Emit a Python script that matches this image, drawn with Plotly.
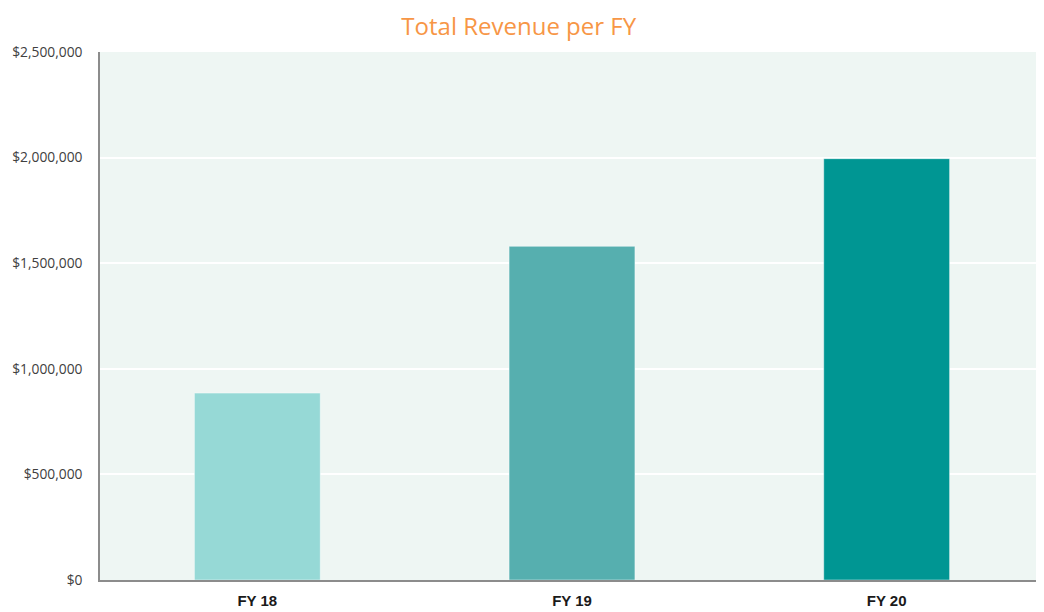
import plotly.graph_objects as go

categories = ["FY 18", "FY 19", "FY 20"]
revenue = [885000, 1580000, 1995000]
bar_colors = ["#96D9D6", "#56AFAF", "#009693"]
tick_vals = [0, 500000, 1000000, 1500000, 2000000, 2500000]
tick_text = ["$0", "$500,000", "$1,000,000", "$1,500,000", "$2,000,000", "$2,500,000"]

fig = go.Figure(go.Bar(
    x=categories, y=revenue,
    marker=dict(color=bar_colors, line=dict(color="rgba(255,255,255,0.45)", width=1)),
    hovertemplate="%{x}: $%{y:,.0f}<extra></extra>",
))

fig.update_layout(
    width=1036, height=604,
    margin=dict(l=92, r=0, t=44, b=32, autoexpand=False),
    paper_bgcolor="white",
    plot_bgcolor="#EEF6F3",
    bargap=0.6,
    showlegend=False,
    title=dict(text="Total Revenue per FY", x=0.493, xanchor="center", y=0.970, yanchor="middle",
               xref="container", yref="container",
               font=dict(family="Open Sans, Calibri, sans-serif", size=24, color="#F79646")),
)
fig.update_xaxes(
    showline=True, linecolor="#8C8C8C", linewidth=1.5,
    ticks="", showgrid=False, ticklabelstandoff=6,
    tickfont=dict(family="Liberation Sans, Arial, sans-serif", size=15, color="#1a1a1a", weight="bold"),
)
fig.update_yaxes(
    range=[0, 2500000], tickvals=tick_vals, ticktext=tick_text,
    showline=True, linecolor="#8C8C8C", linewidth=1.5,
    gridcolor="white", gridwidth=1.5, zeroline=False,
    ticks="", ticklabelstandoff=13,
    tickfont=dict(family="Open Sans, sans-serif", size=13.8, color="#404040"),
)

fig.write_html("out.html")
